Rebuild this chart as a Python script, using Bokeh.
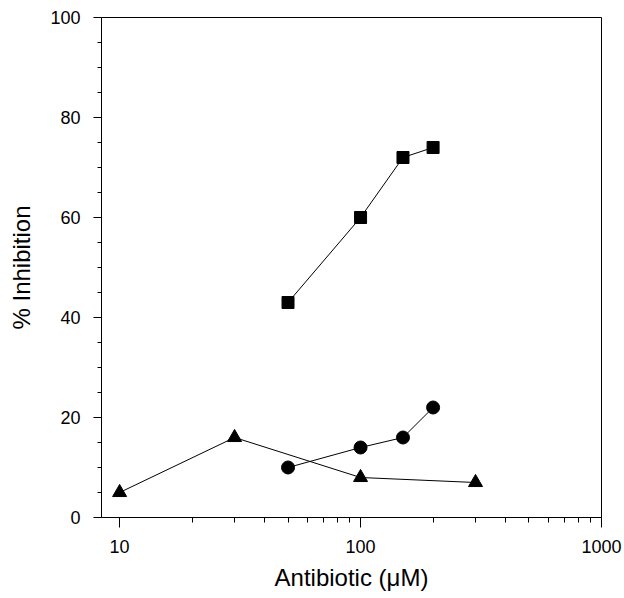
from bokeh.plotting import figure
from bokeh.models import FixedTicker, Range1d, BasicTickFormatter
from bokeh.embed import file_html
from bokeh.resources import INLINE

# Data
conc_squares = [50, 100, 150, 200]
inhib_squares = [43, 60, 72, 74]
conc_circles = [50, 100, 150, 200]
inhib_circles = [10, 14, 16, 22]
conc_triangles = [10, 30, 100, 300]
inhib_triangles = [5, 16, 8, 7]

x_major_ticks = [10, 100, 1000]
x_minor_ticks = [20, 30, 40, 50, 60, 70, 80, 90, 200, 300, 400, 500, 600, 700, 800, 900]
y_major_ticks = [0, 20, 40, 60, 80, 100]
y_minor_ticks = [5, 10, 15, 25, 30, 35, 45, 50, 55, 65, 70, 75, 85, 90, 95]

FONT = "Liberation Sans"

p = figure(width=622, height=596, x_axis_type="log",
           x_range=Range1d(8.41, 1000), y_range=Range1d(0, 100),
           output_backend="svg", toolbar_location=None,
           min_border_left=101, min_border_right=21,
           min_border_top=17, min_border_bottom=79)

p.background_fill_color = "white"
p.border_fill_color = "white"
p.outline_line_color = "black"
p.outline_line_width = 1
p.xgrid.visible = False
p.ygrid.visible = False

# x axis
p.xaxis.ticker = FixedTicker(ticks=x_major_ticks, minor_ticks=x_minor_ticks)
p.xaxis.formatter = BasicTickFormatter()
p.xaxis.major_tick_in = 0
p.xaxis.major_tick_out = 10
p.xaxis.minor_tick_in = 0
p.xaxis.minor_tick_out = 5
p.xaxis.major_label_standoff = 12
p.xaxis.major_label_text_font = FONT
p.xaxis.major_label_text_font_size = "18px"
p.xaxis.major_label_text_color = "black"
p.xaxis.axis_label = "Antibiotic (\u03bcM)"
p.xaxis.axis_label_text_font = FONT
p.xaxis.axis_label_text_font_size = "24px"
p.xaxis.axis_label_text_font_style = "normal"
p.xaxis.axis_label_text_color = "black"
p.xaxis.axis_label_standoff = 8

# y axis
p.yaxis.ticker = FixedTicker(ticks=y_major_ticks, minor_ticks=y_minor_ticks)
p.yaxis.major_tick_in = 0
p.yaxis.major_tick_out = 8
p.yaxis.minor_tick_in = 0
p.yaxis.minor_tick_out = 4
p.yaxis.major_label_standoff = 13
p.yaxis.major_label_text_font = FONT
p.yaxis.major_label_text_font_size = "18px"
p.yaxis.major_label_text_color = "black"
p.yaxis.axis_label = "% Inhibition"
p.yaxis.axis_label_text_font = FONT
p.yaxis.axis_label_text_font_size = "24px"
p.yaxis.axis_label_text_font_style = "normal"
p.yaxis.axis_label_text_color = "black"
p.yaxis.axis_label_standoff = 12

for ax in (p.xaxis, p.yaxis):
    ax.axis_line_color = "black"
    ax.major_tick_line_color = "black"
    ax.minor_tick_line_color = "black"

# series
p.line(conc_squares, inhib_squares, line_color="black", line_width=1)
p.scatter(conc_squares, inhib_squares, marker="square", size=12,
          fill_color="black", line_color="black")

p.line(conc_circles, inhib_circles, line_color="black", line_width=1)
p.scatter(conc_circles, inhib_circles, marker="circle", size=13,
          fill_color="black", line_color="black")

p.line(conc_triangles, inhib_triangles, line_color="black", line_width=1)
p.scatter(conc_triangles, inhib_triangles, marker="triangle", size=14,
          fill_color="black", line_color="black")

open("out.html", "w").write(file_html(p, INLINE))
